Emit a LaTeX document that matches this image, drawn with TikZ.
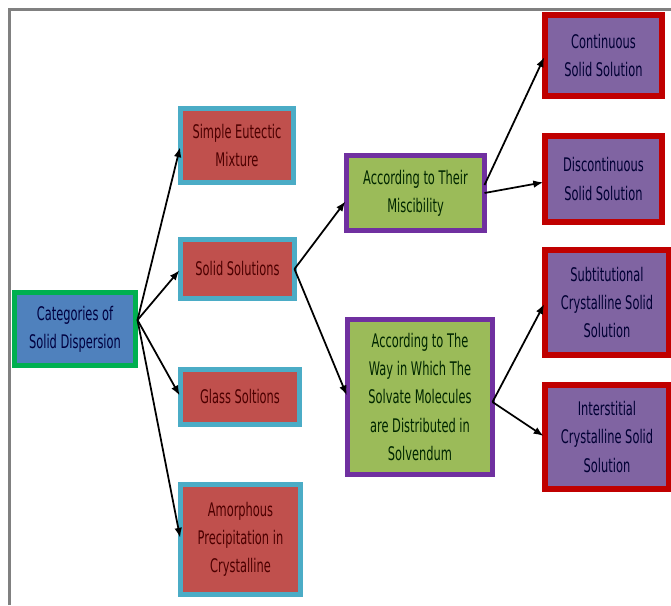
\documentclass[tikz,border=0pt]{standalone}
\usepackage{fontspec}
\setmainfont{DejaVu Sans}[FakeStretch=0.61]
\usetikzlibrary{arrows.meta,shadows}

\newcommand\pxu{0.03cm}
\definecolor{cyanline}{RGB}{75,172,198}
\definecolor{redfill}{RGB}{192,80,77}
\definecolor{bluefill}{RGB}{79,129,189}
\definecolor{greenline}{RGB}{0,176,80}
\definecolor{greenfill}{RGB}{155,187,89}
\definecolor{purpleline}{RGB}{112,48,160}
\definecolor{purplefill}{RGB}{128,100,162}
\definecolor{redline}{RGB}{192,0,0}

\begin{document}
\begin{tikzpicture}[x=0.03cm, y=-0.03cm,
  every node/.style={align=center, font=\fontsize{16}{24}\selectfont, inner sep=0pt, outer sep=0pt},
  shade box/.style={drop shadow={shadow xshift=1pt, shadow yshift=-1.5pt, fill=black!30}},
  catbox/.style={shade box, draw=greenline, line width=5*\pxu, fill=bluefill, text=blue!25!black},
  typebox/.style={shade box, draw=cyanline, line width=5*\pxu, fill=redfill, text=red!30!black},
  waybox/.style={shade box, draw=purpleline, line width=5*\pxu, fill=greenfill, text=green!15!black},
  kindbox/.style={shade box, draw=redline, line width=6*\pxu, fill=purplefill, text=blue!20!black},
  arr/.style={-{Latex[length=8.5pt,width=6.5pt]}, line width=1.5pt, shorten >=1.5pt}]
\useasboundingbox (0,0) rectangle (671,605);
\fill[white] (0,0) rectangle (671,605);

% frame
\draw[black!50, line width=3*\pxu] (9,605) -- (9,9) -- (671,9);

% first level
\node[catbox, minimum width=121*\pxu, minimum height=73*\pxu] (root) at (75,329) {Categories of\\Solid Dispersion};

\node[typebox, minimum width=113*\pxu, minimum height=74*\pxu] (simple) at (237,145.5) {Simple Eutectic\\Mixture};
\node[typebox, minimum width=114*\pxu, minimum height=59*\pxu] (solid) at (237.5,269) {Solid Solutions};
\node[typebox, minimum width=119*\pxu, minimum height=55*\pxu] (glass) at (240,397) {Glass Soltions};
\node[typebox, minimum width=120*\pxu, minimum height=110*\pxu] (amorph) at (240.5,539.5) {Amorphous\\Precipitation in\\Crystalline};

% solid solutions
\node[waybox, minimum width=138*\pxu, minimum height=75*\pxu] (misc) at (415.5,193) {According to Their\\Miscibility};
\node[waybox, minimum width=145*\pxu, minimum height=155*\pxu] (solv) at (420,397) {According to The\\Way in Which The\\Solvate Molecules\\are Distributed in\\Solvendum};

\node[kindbox, minimum width=117*\pxu, minimum height=81*\pxu] (cont) at (603.5,55.5) {Continuous\\Solid Solution};
\node[kindbox, minimum width=117*\pxu, minimum height=86*\pxu] (disc) at (603.5,179) {Discontinuous\\Solid Solution};
\node[kindbox, minimum width=124*\pxu, minimum height=105*\pxu] (subt) at (607,302.5) {Subtitutional\\Crystalline Solid\\Solution};
\node[kindbox, minimum width=124*\pxu, minimum height=104*\pxu] (inter) at (607,437) {Interstitial\\Crystalline Solid\\Solution};

% arrows
\coordinate (fork) at ([xshift=2*\pxu, yshift=9*\pxu]root.east);
\draw[arr] (fork) -- (simple.west);
\draw[arr] (fork) -- (solid.west);
\draw[arr] (fork) -- (glass.west);
\draw[arr] (fork) -- (amorph.west);

\draw[arr] (solid.east) -- ([yshift=-7*\pxu]misc.west);
\draw[arr] (solid.east) -- (solv.west);

\draw[arr] ([yshift=8*\pxu]misc.east) -- (cont.west);
\draw[arr] (misc.east) -- ([yshift=-3*\pxu]disc.west);
\draw[arr] ([yshift=-5*\pxu]solv.east) -- (subt.west);
\draw[arr] ([yshift=-5*\pxu]solv.east) -- (inter.west);
\end{tikzpicture}
\end{document}
